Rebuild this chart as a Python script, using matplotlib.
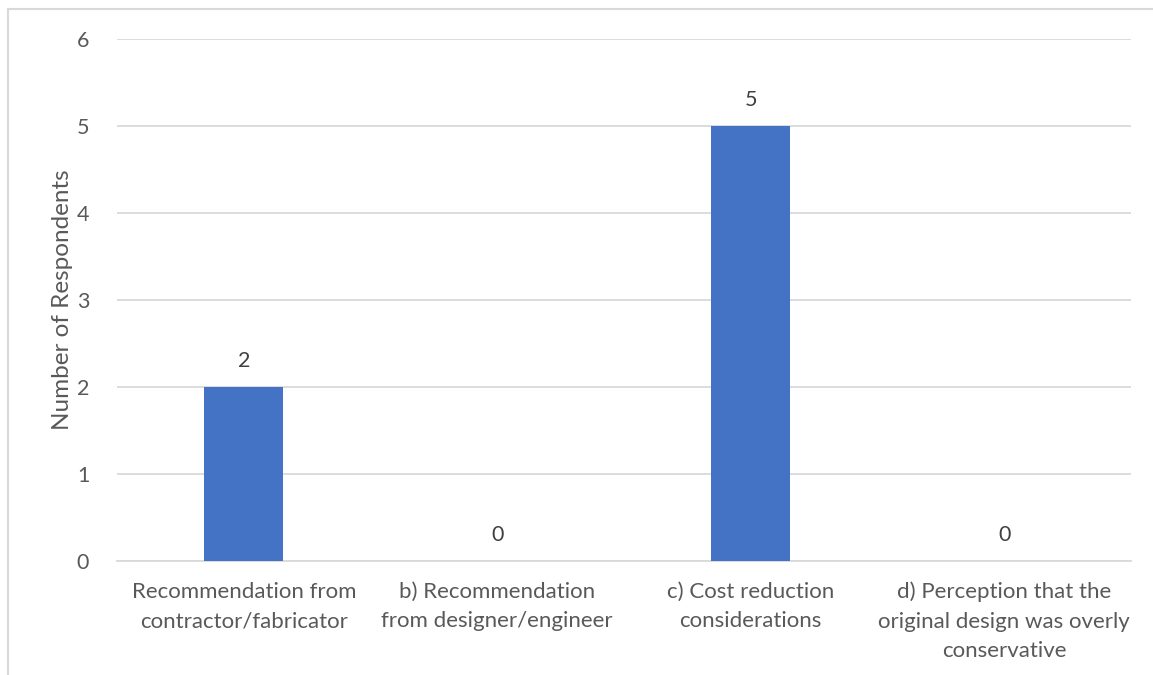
import matplotlib.pyplot as plt
from matplotlib.patches import Rectangle

categories = [
    "Recommendation from\ncontractor/fabricator",
    "b) Recommendation\nfrom designer/engineer",
    "c) Cost reduction\nconsiderations",
    "d) Perception that the\noriginal design was overly\nconservative",
]
respondents = [2, 0, 5, 0]
y_ticks = [0, 1, 2, 3, 4, 5, 6]

BAR_COLOR = "#4472C4"
TEXT_COLOR = "#595959"
GRID_COLOR = "#D9D9D9"

plt.rcParams["font.family"] = ["Lato", "DejaVu Sans"]

W, H = 1153, 675
fig = plt.figure(figsize=(W / 100, H / 100), dpi=100)
ax = fig.add_axes([117 / W, 1 - 561 / H, (1131 - 117) / W, (561 - 39) / H])

# chart frame, cut off on the right and bottom
fig.patches.append(Rectangle((8 / W, -0.1), 1.2, 1 - 9 / H + 0.1,
                             transform=fig.transFigure, fill=False,
                             edgecolor=GRID_COLOR, linewidth=1.5))

x = range(len(categories))
bars = ax.bar(x, respondents, width=0.31, color=BAR_COLOR, zorder=3)

for rect, val in zip(bars, respondents):
    ax.annotate(str(val), (rect.get_x() + rect.get_width() / 2, val),
                xytext=(0, 19), textcoords="offset points",
                ha="center", va="center", fontsize=15.5, color="#404040")

ax.set_xlim(-0.5, len(categories) - 0.5)
ax.set_ylim(0, 6)
ax.set_yticks(y_ticks)
ax.set_xticks(list(x))
ax.set_xticklabels(categories, fontsize=16, color=TEXT_COLOR, linespacing=1.58)
ax.tick_params(axis="y", labelsize=15.5, labelcolor=TEXT_COLOR, length=0, pad=20)
ax.tick_params(axis="x", length=0, pad=15)

ax.grid(axis="y", color=GRID_COLOR, linewidth=1.3, zorder=0)
for side in ["top", "right", "left"]:
    ax.spines[side].set_visible(False)
ax.spines["bottom"].set_color(GRID_COLOR)
ax.spines["bottom"].set_linewidth(1.3)

ax.set_ylabel("Number of Respondents", fontsize=17.5, color=TEXT_COLOR, labelpad=3)

fig.savefig("out.png", dpi=100)
